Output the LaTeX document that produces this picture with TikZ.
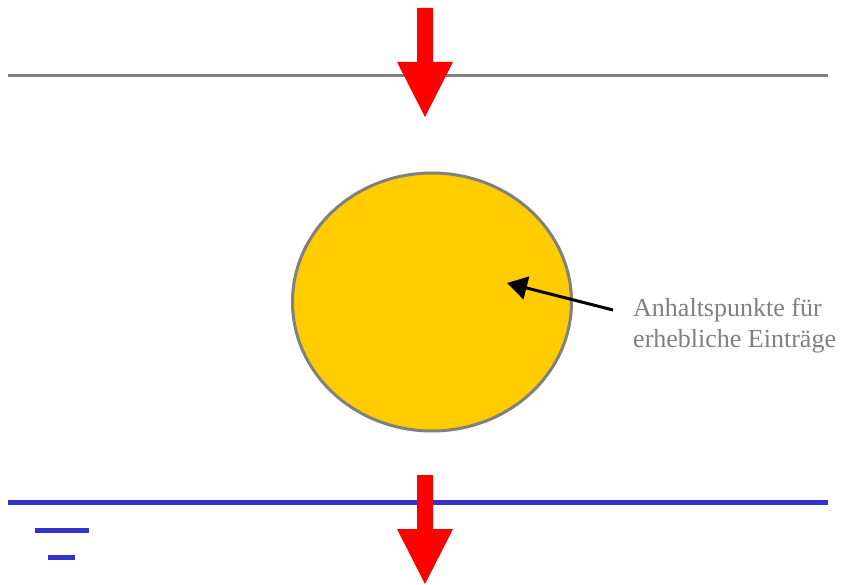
\documentclass[tikz,border=0pt]{standalone}
\usepackage{fontspec}
\setmainfont{Liberation Serif}
\usetikzlibrary{arrows.meta, shapes.geometric}
\definecolor{groundgray}{RGB}{128,128,128}
\definecolor{waterblue}{RGB}{51,51,204}
\definecolor{pondyellow}{RGB}{255,204,0}
\definecolor{fluxred}{RGB}{255,0,0}

\begin{document}
\begin{tikzpicture}[
  x=1pt, y=-1pt,
  surface/.style={draw=groundgray, line width=3pt},
  water/.style={draw=waterblue, line width=5pt},
  pond/.style={ellipse, draw=groundgray, line width=3pt, fill=pondyellow,
    minimum width=279pt, minimum height=258pt, inner sep=0pt},
  note/.style={align=left, inner sep=0pt, text=groundgray,
    font=\fontsize{26}{31}\selectfont},
  pointer/.style={-{Triangle[length=20pt, width=23pt]}, line width=3pt, black},
  flux/.pic={\fill[fluxred] (-8,0) -- (8,0) -- (8,54) -- (28,54) -- (0,109)
    -- (-28,54) -- (-8,54) -- cycle;},
]
\useasboundingbox (0,0) rectangle (841,585);

% --- Ground surface and water table ---
\draw[surface] (8,76) -- (828,76);
\draw[water] (8,502) -- (828,502);
\draw[water] (35,530) -- (89,530);
\draw[water] (48,557) -- (75,557);

% --- Input and output fluxes ---
\pic at (425,8) {flux};
\pic at (425,475) {flux};

% --- Body and note ---
\node[pond] (body) at (432,302) {};
\node[note, anchor=base west] (label) at (633,348) {Anhaltspunkte für\\erhebliche Einträge};

\coordinate (tail) at (613,310);
\coordinate (hit) at (507,283);
\draw[pointer] (tail) -- (hit);

\end{tikzpicture}
\end{document}
